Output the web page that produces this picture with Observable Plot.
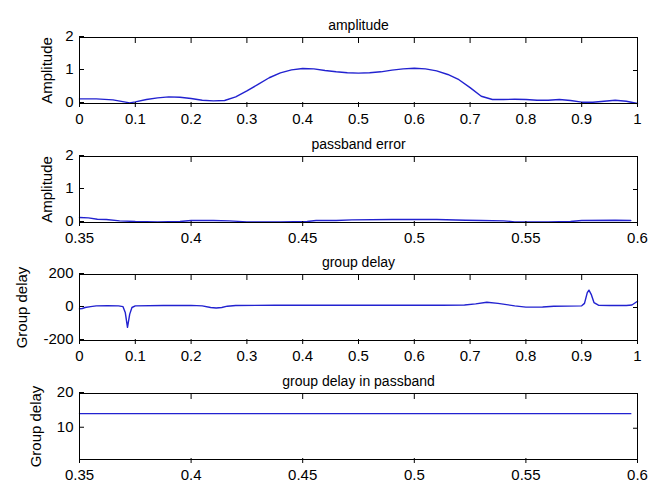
<!DOCTYPE html>
<html>
<head>
<meta charset="utf-8">
<script src="https://cdn.jsdelivr.net/npm/d3@7"></script>
<script src="https://cdn.jsdelivr.net/npm/@observablehq/plot@0.6"></script>
<style>
  html, body { margin: 0; padding: 0; background: #fff; }
  #chart { position: relative; width: 651px; height: 482px; overflow: hidden; }
  #chart svg { position: absolute; left: 0; overflow: visible; }
</style>
</head>
<body>
<div id="chart"></div>
<script>
// ---- data ----
const ampX = [0, 0.03, 0.06, 0.08, 0.09, 0.1, 0.12, 0.14, 0.16, 0.18, 0.2, 0.22, 0.24, 0.26, 0.28, 0.3, 0.32, 0.34, 0.36, 0.38, 0.4, 0.42, 0.44, 0.46, 0.48, 0.5, 0.52, 0.54, 0.56, 0.58, 0.6, 0.62, 0.64, 0.66, 0.68, 0.7, 0.72, 0.74, 0.76, 0.78, 0.8, 0.82, 0.84, 0.86, 0.88, 0.9, 0.92, 0.94, 0.96, 0.98, 1.0];
const ampY = [0.14, 0.14, 0.11, 0.05, 0.02, 0.05, 0.12, 0.17, 0.2, 0.19, 0.15, 0.1, 0.08, 0.09, 0.2, 0.38, 0.58, 0.78, 0.93, 1.02, 1.06, 1.05, 1.0, 0.96, 0.93, 0.92, 0.93, 0.96, 1.01, 1.05, 1.07, 1.05, 0.99, 0.88, 0.72, 0.48, 0.22, 0.12, 0.12, 0.13, 0.12, 0.1, 0.1, 0.12, 0.09, 0.04, 0.04, 0.07, 0.1, 0.07, 0.0];

const pbX = [0.35, 0.354, 0.358, 0.362, 0.368, 0.375, 0.385, 0.395, 0.4, 0.41, 0.417, 0.425, 0.44, 0.452, 0.456, 0.465, 0.472, 0.49, 0.51, 0.523, 0.53, 0.54, 0.545, 0.56, 0.57, 0.575, 0.59, 0.597];
const pbY = [0.15, 0.14, 0.1, 0.09, 0.05, 0.03, 0.02, 0.03, 0.06, 0.06, 0.05, 0.02, 0.02, 0.03, 0.06, 0.06, 0.08, 0.09, 0.09, 0.07, 0.06, 0.05, 0.02, 0.02, 0.03, 0.06, 0.07, 0.06];

const gdX = [0, 0.005, 0.01, 0.02, 0.03, 0.05, 0.07, 0.078, 0.082, 0.086, 0.09, 0.094, 0.1, 0.15, 0.2, 0.22, 0.235, 0.245, 0.255, 0.265, 0.28, 0.35, 0.5, 0.65, 0.69, 0.71, 0.73, 0.75, 0.78, 0.8, 0.83, 0.85, 0.9, 0.905, 0.91, 0.913, 0.917, 0.922, 0.93, 0.95, 0.98, 0.99, 1.0];
const gdY = [-8, -6, 0, 5, 10, 11, 10, 5, -30, -120, -40, 0, 10, 12, 13, 10, 0, -3, 0, 8, 12, 14, 14, 14, 15, 22, 32, 25, 10, 2, 3, 8, 10, 25, 90, 105, 80, 30, 14, 12, 12, 15, 38];

const gpX = [0.35, 0.45, 0.55, 0.597];
const gpY = [14.2, 14.2, 14.2, 14.2];

const titles = ["amplitude", "passband error", "group delay", "group delay in passband"];
const yLabels = ["Amplitude", "Amplitude", "Group delay", "Group delay"];
const xTicksFull = [0, 0.1, 0.2, 0.3, 0.4, 0.5, 0.6, 0.7, 0.8, 0.9, 1];
const xTicksPass = [0.35, 0.4, 0.45, 0.5, 0.55, 0.6];
const yTicksAmp = [0, 1, 2];
const yTicksGd = [-200, 0, 200];
const yTicksGp = [10, 20];

// ---- drawing ----
const tickFont = "'Liberation Sans', Arial, Helvetica, sans-serif";
const textFont = "'Liberation Sans', Arial, Helvetica, sans-serif";
const fmt = d => String(+(+d).toFixed(2));
const blank = () => "";

function panel(o) {
  const data = o.xs.map((x, i) => ({x, y: o.ys[i]}));
  return Plot.plot({
    width: 651, height: 118,
    marginTop: 30, marginBottom: 22, marginLeft: 79, marginRight: 14,
    style: {fontFamily: tickFont, fontSize: "15px", background: "transparent", color: "#000", overflow: "visible"},
    x: {domain: o.xDomain, label: null},
    y: {domain: o.yDomain, label: null},
    marks: [
      Plot.line(data, {x: "x", y: "y", stroke: "#2222d0", strokeWidth: 1.4}),
      Plot.frame({stroke: "#000", strokeWidth: 1}),
      Plot.axisX({ticks: o.xTicks, anchor: "bottom", tickSize: -5, tickPadding: 11, dy: 4, tickFormat: fmt, label: null, fontSize: 15}),
      Plot.axisX({ticks: o.xTicks, anchor: "top", tickSize: -5, tickFormat: blank, label: null}),
      Plot.axisY({ticks: o.yTicks, anchor: "left", tickSize: -5, tickPadding: 11, dy: -1, tickFormat: fmt, label: null, fontSize: 15}),
      Plot.axisY({ticks: o.yTicks, anchor: "right", tickSize: -5, tickFormat: blank, label: null}),
      Plot.text([o.title], {frameAnchor: "top", dy: -17, fontSize: 14, fontFamily: textFont}),
      Plot.text([o.ylabel], {frameAnchor: "left", textAnchor: "middle", dx: o.ylabelDx, rotate: -90, fontSize: 15, fontFamily: textFont})
    ]
  });
}

const specs = [
  {xs: ampX, ys: ampY, xDomain: [0, 1], xTicks: xTicksFull, yDomain: [0, 2], yTicks: yTicksAmp, title: titles[0], ylabel: yLabels[0], ylabelDx: -32, top: 7},
  {xs: pbX, ys: pbY, xDomain: [0.35, 0.6], xTicks: xTicksPass, yDomain: [0, 2], yTicks: yTicksAmp, title: titles[1], ylabel: yLabels[1], ylabelDx: -32, top: 126},
  {xs: gdX, ys: gdY, xDomain: [0, 1], xTicks: xTicksFull, yDomain: [-200, 200], yTicks: yTicksGd, title: titles[2], ylabel: yLabels[2], ylabelDx: -57, top: 244},
  {xs: gpX, ys: gpY, xDomain: [0.35, 0.6], xTicks: xTicksPass, yDomain: [1, 20], yTicks: yTicksGp, title: titles[3], ylabel: yLabels[3], ylabelDx: -43, top: 363}
];

const root = document.getElementById("chart");
for (const s of specs) {
  const svg = panel(s);
  svg.style.top = s.top + "px";
  root.appendChild(svg);
}
</script>
</body>
</html>
